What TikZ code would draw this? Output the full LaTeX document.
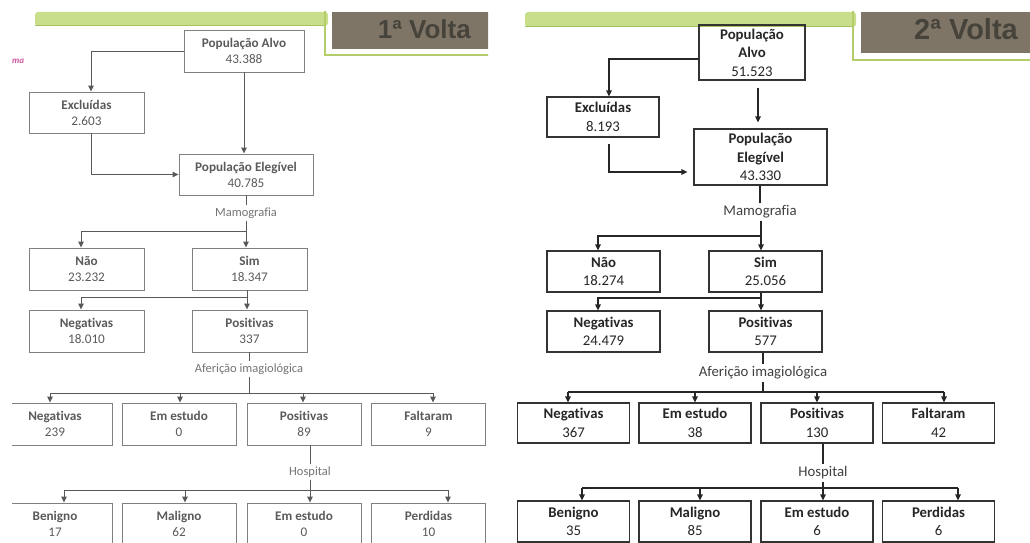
\documentclass[tikz,border=0pt]{standalone}
\usepackage{fontspec}
\setmainfont{Carlito}[Ligatures=NoCommon]
\newfontfamily\titlefont{Liberation Sans}
\usetikzlibrary{arrows.meta,positioning,calc}
\definecolor{barGreen}{HTML}{C8DE8A}
\definecolor{barEdge}{HTML}{A6C25E}
\definecolor{frameGreen}{HTML}{B2CD6A}
\definecolor{titleBrown}{HTML}{7E7567}
\definecolor{titleText}{HTML}{46433A}
\definecolor{oldGray}{HTML}{5A5A5A}
\definecolor{pinkText}{HTML}{D2559C}
\newcommand{\boxlabel}[2]{\textbf{#1}\\#2}
\tikzset{
  boxA/.style={draw=black!50, line width=0.9pt, inner sep=0pt, align=center,
    text=oldGray, font=\fontsize{13.2}{16}\selectfont},
  boxB/.style={draw=black!80, line width=1.2pt, inner sep=0pt, align=center,
    text=black!85, font=\fontsize{14.8}{18.5}\selectfont},
  stepA/.style={text=black!55, font=\fontsize{12.5}{14}\selectfont, inner sep=2pt},
  stepB/.style={text=black!75, font=\fontsize{14.8}{16}\selectfont, inner sep=2pt},
  lineA/.style={draw=black!65, line width=0.9pt},
  lineB/.style={draw=black!85, line width=1.2pt},
  arr/.style={-{Triangle[length=6pt,width=5.5pt]}},
  voltaTitle/.style={anchor=east, text=titleText, inner sep=0pt},
}
\begin{document}
\begin{tikzpicture}[x=1pt,y=-1pt]
\useasboundingbox (0,0) rectangle (1030,543);

% 1a volta
\begin{scope}
  \clip (12,12) rectangle (488,543);
  \fill[barGreen, rounded corners=3pt] (35,12) rectangle (328,26);
  \draw[barEdge, line width=1pt] (35,26) -- (325,26);
  \draw[frameGreen, line width=1.4pt] (325,10) -- (325,55) -- (490,55);
  \fill[titleBrown] (332,12) rectangle (490,49);
  \node[voltaTitle, font=\titlefont\bfseries\fontsize{26}{26}\selectfont] (voltaA) at (471,29) {1ª Volta};
  \node[anchor=west, text=pinkText, inner sep=0pt, font=\bfseries\itshape\fontsize{9}{9}\selectfont] (maA) at (12,61) {ma};

  \node[boxA, minimum width=120pt, minimum height=42pt] (alvoA) at (244,51) {\boxlabel{População Alvo}{43.388}};
  \node[boxA, minimum width=115pt, minimum height=41pt] (exclA) at (86.5,112.5) {\boxlabel{Excluídas}{2.603}};
  \node[boxA, minimum width=134pt, minimum height=41pt] (elegA) at (246,174.5) {\boxlabel{População Elegível}{40.785}};
  \draw[lineA, arr] (alvoA.west) -| ([xshift=4.5pt]exclA.north);
  \draw[lineA, arr] (alvoA.south) -- (alvoA.south |- elegA.north);
  \draw[lineA, arr] ([xshift=4.5pt]exclA.south) |- (elegA.west);

  \node[stepA] (mamoA) at (246,213) {Mamografia};
  \draw[lineA] (elegA.south) -- (mamoA.north);
  \node[boxA, minimum width=115pt, minimum height=42pt] (naoA) at (86.5,269) {\boxlabel{Não}{23.232}};
  \node[boxA, minimum width=115pt, minimum height=42pt] (simA) at (249.5,269) {\boxlabel{Sim}{18.347}};
  \coordinate (barA1) at (246,231);
  \draw[lineA] (mamoA.south) -- (barA1);
  \draw[lineA, arr] (barA1) -| ([xshift=-5.5pt]naoA.north);
  \draw[lineA, arr] (barA1) -- (barA1 |- simA.north);

  \node[boxA, minimum width=115pt, minimum height=42pt] (negA) at (86.5,331) {\boxlabel{Negativas}{18.010}};
  \node[boxA, minimum width=115pt, minimum height=42pt] (posA) at (249.5,331) {\boxlabel{Positivas}{337}};
  \coordinate (barA2) at (247,297);
  \draw[lineA] (barA2 |- simA.south) -- (barA2);
  \draw[lineA, arr] (barA2) -| ([xshift=-5.5pt]negA.north);
  \draw[lineA, arr] (barA2) -- (barA2 |- posA.north);

  \node[stepA] (afeA) at (249,369) {Aferição imagiológica};
  \draw[lineA] (afeA.north |- posA.south) -- (afeA.north);
  \coordinate (barA3) at (249,393);
  \draw[lineA] (afeA.south) -- (barA3);
  \foreach \nm/\lab/\val/\cx/\dx in {negA3/Negativas/239/55/-5, estA3/Em estudo/0/179/1,
      posA3/Positivas/89/304/-1, faltA3/Faltaram/9/428.5/4.5} {
    \node[boxA, minimum width=114pt, minimum height=42pt] (\nm) at (\cx,424) {\boxlabel{\lab}{\val}};
    \coordinate (\nm-in) at ($(\nm.north)+(\dx,0)$);
    \draw[lineA, arr] (\nm-in |- barA3) -- (\nm-in);
  }
  \draw[lineA] (negA3-in |- barA3) -- (faltA3-in |- barA3);

  \node[stepA] (hospA) at (310,472) {Hospital};
  \draw[lineA] (hospA.north |- posA3.south) -- (hospA.north);
  \coordinate (barA4) at (310,490);
  \draw[lineA] (hospA.south) -- (barA4);
  \foreach \nm/\lab/\val/\cx/\dx in {benA4/Benigno/17/55/9, malA4/Maligno/62/179/6,
      estA4/Em estudo/0/304/6, perdA4/Perdidas/10/428.5/19.5} {
    \node[boxA, minimum width=114pt, minimum height=42pt] (\nm) at (\cx,524) {\boxlabel{\lab}{\val}};
    \coordinate (\nm-in) at ($(\nm.north)+(\dx,0)$);
    \draw[lineA, arr] (\nm-in |- barA4) -- (\nm-in);
  }
  \draw[lineA] (benA4-in |- barA4) -- (perdA4-in |- barA4);
\end{scope}

% 2a volta
\begin{scope}
  \clip (515,12) rectangle (1030,543);
  \fill[barGreen, rounded corners=3pt] (525,12) rectangle (856,27);
  \draw[barEdge, line width=1pt] (525,27) -- (853,27);
  \draw[frameGreen, line width=1.4pt] (853,10) -- (853,60) -- (1032,60);
  \fill[titleBrown] (861,12) rectangle (1032,53);
  \node[voltaTitle, font=\titlefont\bfseries\fontsize{29}{29}\selectfont] (voltaB) at (1018,29) {2ª Volta};

  \node[boxB, minimum width=106pt, minimum height=55pt] (alvoB) at (752,52.5) {\textbf{População}\\\textbf{Alvo}\\51.523};
  \node[boxB, minimum width=112pt, minimum height=40pt] (exclB) at (603,117) {\boxlabel{Excluídas}{8.193}};
  \node[boxB, minimum width=133pt, minimum height=56pt] (elegB) at (760.5,157) {\textbf{População}\\\textbf{Elegível}\\43.330};
  \draw[lineB, arr] ([yshift=-6.5pt]alvoB.west) -| ([xshift=6pt]exclB.north);
  \draw[lineB, arr, shorten <=7pt, shorten >=6pt] ([xshift=6pt]alvoB.south) -- ([xshift=6pt]alvoB.south |- elegB.north);
  \draw[lineB, arr, shorten <=6pt, shorten >=6pt] ([xshift=6pt]exclB.south) |- ([yshift=-15pt]elegB.west);

  \node[stepB] (mamoB) at (760,212) {Mamografia};
  \draw[lineB] (mamoB.north |- elegB.south) -- (mamoB.north);
  \node[boxB, minimum width=113pt, minimum height=41pt] (naoB) at (603.5,271.5) {\boxlabel{Não}{18.274}};
  \node[boxB, minimum width=113pt, minimum height=41pt] (simB) at (765.5,271.5) {\boxlabel{Sim}{25.056}};
  \coordinate (barB1) at (761,236);
  \draw[lineB] (barB1 |- mamoB.south) -- (barB1);
  \draw[lineB, arr] (barB1) -| ([xshift=-5.5pt]naoB.north);
  \draw[lineB, arr] (barB1) -- (barB1 |- simB.north);

  \node[boxB, minimum width=113pt, minimum height=41pt] (negB) at (603.5,331.5) {\boxlabel{Negativas}{24.479}};
  \node[boxB, minimum width=113pt, minimum height=41pt] (posB) at (765.5,331.5) {\boxlabel{Positivas}{577}};
  \coordinate (barB2) at (761,298);
  \draw[lineB] (barB2 |- simB.south) -- (barB2);
  \draw[lineB, arr] (barB2) -| ([xshift=-5.5pt]negB.north);
  \draw[lineB, arr] (barB2) -- (barB2 |- posB.north);

  \node[stepB] (afeB) at (763,373) {Aferição imagiológica};
  \draw[lineB] (afeB.north |- posB.south) -- (afeB.north);
  \coordinate (barB3) at (763,392);
  \draw[lineB] (afeB.south) -- (barB3);
  \foreach \nm/\lab/\val/\cx/\dx in {negB3/Negativas/367/573.5/-5.5, estB3/Em estudo/38/695/0,
      posB3/Positivas/130/817/0, faltB3/Faltaram/42/938.5/5.5} {
    \node[boxB, minimum width=112pt, minimum height=40pt] (\nm) at (\cx,423) {\boxlabel{\lab}{\val}};
    \coordinate (\nm-in) at ($(\nm.north)+(\dx,0)$);
    \draw[lineB, arr] (\nm-in |- barB3) -- (\nm-in);
  }
  \draw[lineB] (negB3-in |- barB3) -- (faltB3-in |- barB3);

  \node[stepB] (hospB) at (823,473) {Hospital};
  \draw[lineB] (hospB.north |- posB3.south) -- (hospB.north);
  \coordinate (barB4) at (823,488);
  \draw[lineB] (hospB.south) -- (barB4);
  \foreach \nm/\lab/\val/\cx/\dx in {benB4/Benigno/35/573.5/8.5, malB4/Maligno/85/695/5,
      estB4/Em estudo/6/817/6, perdB4/Perdidas/6/938.5/19.5} {
    \node[boxB, minimum width=112pt, minimum height=41pt] (\nm) at (\cx,521.5) {\boxlabel{\lab}{\val}};
    \coordinate (\nm-in) at ($(\nm.north)+(\dx,0)$);
    \draw[lineB, arr] (\nm-in |- barB4) -- (\nm-in);
  }
  \draw[lineB] (benB4-in |- barB4) -- (perdB4-in |- barB4);
\end{scope}
\end{tikzpicture}
\end{document}
